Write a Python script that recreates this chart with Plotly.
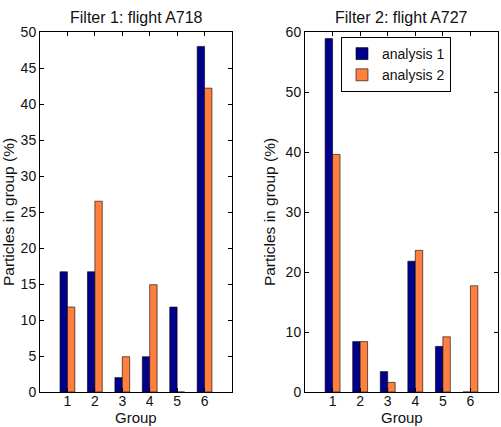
import plotly.graph_objects as go

groups = [1, 2, 3, 4, 5, 6]
f1_analysis1 = [16.7, 16.7, 2.0, 4.9, 11.8, 48.0]
f1_analysis2 = [11.8, 26.5, 4.9, 14.9, 0.0, 42.2]
f2_analysis1 = [58.9, 8.4, 3.4, 21.8, 7.6, 0.0]
f2_analysis2 = [39.6, 8.4, 1.6, 23.6, 9.2, 17.7]
titles = ["Filter 1: flight A718", "Filter 2: flight A727"]
xlabel = "Group"
ylabel = "Particles in group (%)"
series_names = ["analysis 1", "analysis 2"]

C1 = "#00008B"
C2 = "#FF7F3F"
FONT = "Liberation Sans, Arial, sans-serif"
BW = 0.27

fig = go.Figure()
for i, (a1, a2) in enumerate([(f1_analysis1, f1_analysis2), (f2_analysis1, f2_analysis2)]):
    xa = "x" if i == 0 else "x2"
    ya = "y" if i == 0 else "y2"
    fig.add_trace(go.Bar(x=groups, y=a1, name=series_names[0], xaxis=xa, yaxis=ya,
                         width=BW, offset=-BW, marker=dict(color=C1, line=dict(color="black", width=0.6)),
                         showlegend=(i == 1)))
    fig.add_trace(go.Bar(x=groups, y=a2, name=series_names[1], xaxis=xa, yaxis=ya,
                         width=BW, offset=0, marker=dict(color=C2, line=dict(color="black", width=0.6)),
                         showlegend=(i == 1)))

axis_common = dict(showline=True, linecolor="black", linewidth=1, mirror="ticks", automargin=False,
                   ticks="inside", ticklen=4, tickcolor="black", showgrid=False, zeroline=False,
                   tickfont=dict(size=14, color="#111"))
xd1 = [40 / 501, 232 / 501]
xd2 = [305 / 501, 498 / 501]
yd = [1 - 392 / 427, 1 - 32 / 427]

annotations = []
for xd, t in [(xd1, titles[0]), (xd2, titles[1])]:
    xc = (xd[0] + xd[1]) / 2
    annotations.append(dict(text=t, x=xc, y=1 - 17 / 427, xref="paper", yref="paper",
                            showarrow=False, font=dict(size=16, color="#111"),
                            xanchor="center", yanchor="middle"))
    annotations.append(dict(text=xlabel, x=xc, y=0, xref="paper", yref="paper",
                            showarrow=False, font=dict(size=15, color="#111"), borderpad=0,
                            xanchor="center", yanchor="bottom"))

fig.update_layout(
    width=501, height=427, margin=dict(l=0, r=0, t=0, b=0, autoexpand=False),
    paper_bgcolor="white", plot_bgcolor="white",
    font=dict(family=FONT, size=14, color="#111"),
    barmode="overlay",
    xaxis=dict(domain=xd1, range=[0, 7], tickvals=groups, anchor="y", ticklabelstandoff=-4, **axis_common),
    yaxis=dict(domain=yd, range=[0, 50], dtick=5, anchor="x",
               title=dict(text=ylabel, standoff=6, font=dict(size=15.5)), **axis_common),
    xaxis2=dict(domain=xd2, range=[0, 7], tickvals=groups, anchor="y2", ticklabelstandoff=-4, **axis_common),
    yaxis2=dict(domain=yd, range=[0, 60], dtick=10, anchor="x2",
                title=dict(text=ylabel, standoff=6, font=dict(size=15.5)), **axis_common),
    legend=dict(x=341 / 501, y=1 - 37 / 427, xanchor="left", yanchor="top",
                bordercolor="black", borderwidth=1, bgcolor="white",
                font=dict(size=14, color="#111"), tracegroupgap=0, itemwidth=30),
    annotations=annotations,
)

fig.write_html("out.html")
